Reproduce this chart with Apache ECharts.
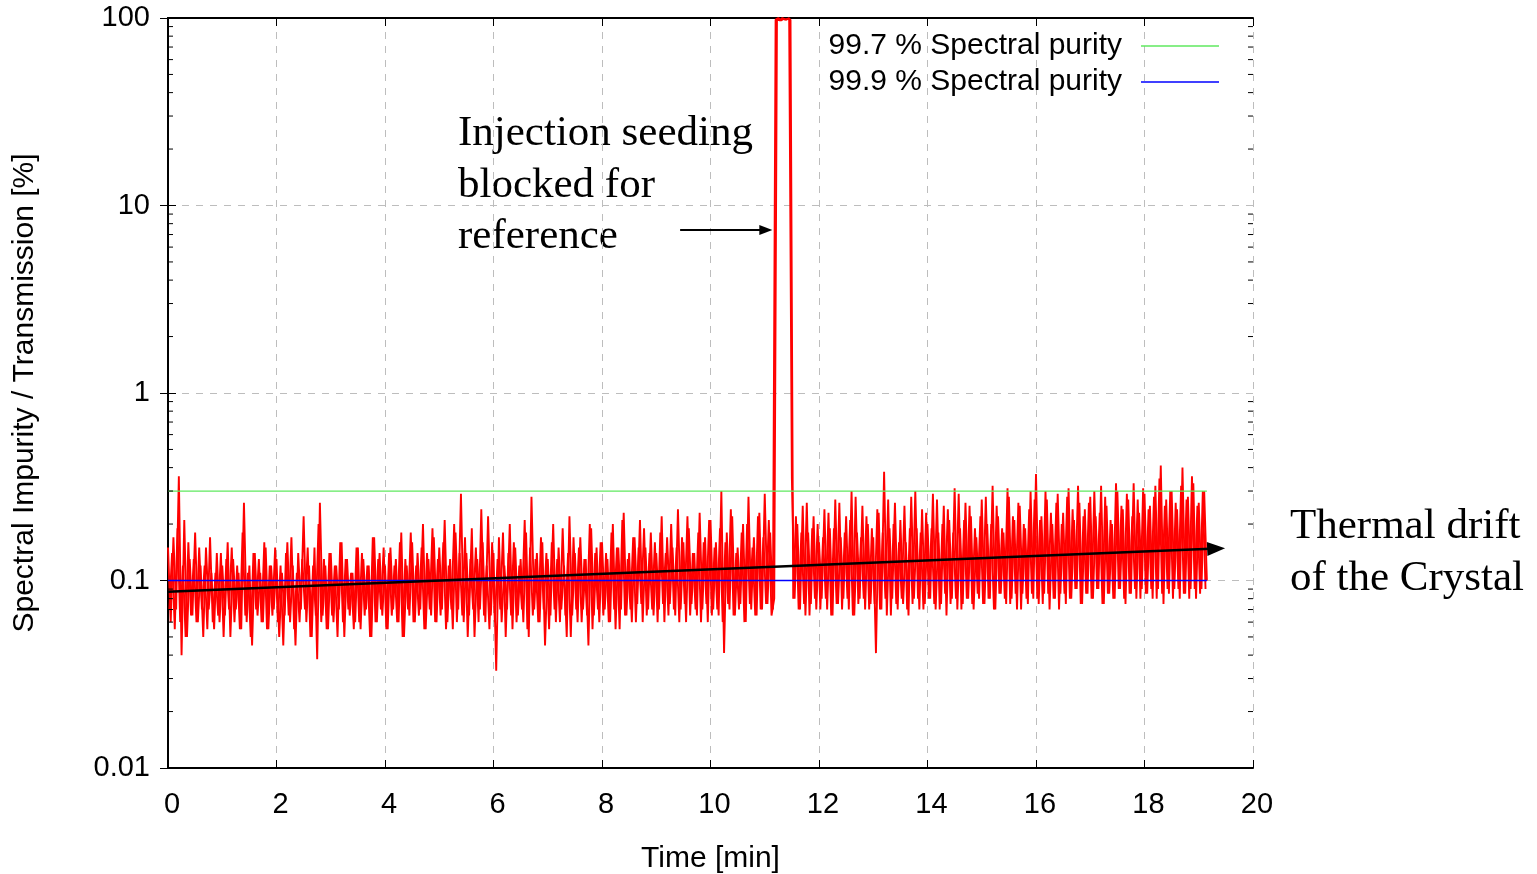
<!DOCTYPE html>
<html>
<head>
<meta charset="utf-8">
<script src="https://cdn.jsdelivr.net/npm/echarts@6/dist/echarts.min.js"></script>
<style>
html,body{margin:0;padding:0;background:#fff;}
#chart{width:1537px;height:874px;}
</style>
</head>
<body>
<div id="chart"></div>
<script>
// ---- Data ----
const sampleStart = 0;      // min
const sampleStep = 0.05;    // min between samples of one sweep; the second sweep is offset by half a step
// Spectral impurity / transmission [%], sweep A: t = i*step
const impurityBeforeBlock = [
  0.15,0.06,0.17,0.07,0.36,0.04,0.21,0.05,0.13,0.065,0.18,0.06,0.12,0.05,0.15,0.07,0.11,0.055,0.14,0.06,
  0.12,0.065,0.16,0.05,0.13,0.07,0.11,0.055,0.26,0.06,0.12,0.045,0.14,0.065,0.11,0.06,0.15,0.055,0.12,0.07,
  0.13,0.05,0.11,0.065,0.16,0.06,0.12,0.045,0.14,0.07,0.22,0.06,0.12,0.05,0.15,0.038,0.26,0.065,0.12,0.055,
  0.14,0.06,0.12,0.07,0.16,0.05,0.13,0.065,0.11,0.06,0.15,0.055,0.13,0.07,0.12,0.05,0.17,0.06,0.14,0.065,
  0.12,0.055,0.15,0.07,0.13,0.06,0.18,0.05,0.12,0.065,0.16,0.06,0.14,0.07,0.2,0.055,0.13,0.065,0.17,0.06,
  0.15,0.07,0.21,0.06,0.13,0.055,0.18,0.07,0.29,0.06,0.14,0.065,0.19,0.05,0.13,0.07,0.16,0.06,0.22,0.065,
  0.14,0.033,0.17,0.06,0.12,0.07,0.2,0.055,0.15,0.065,0.13,0.06,0.18,0.05,0.28,0.07,0.14,0.06,0.16,0.045,
  0.13,0.065,0.2,0.06,0.15,0.07,0.12,0.05,0.22,0.065,0.14,0.06,0.17,0.07,0.13,0.045,0.19,0.065,0.15,0.06,
  0.16,0.07,0.13,0.06,0.2,0.055,0.15,0.07,0.23,0.065,0.14,0.06,0.17,0.075,0.21,0.06,0.15,0.07,0.18,0.065,
  0.14,0.07,0.22,0.06,0.17,0.075,0.15,0.065,0.24,0.07,0.16,0.06,0.19,0.075,0.14,0.065,0.23,0.07,0.17,0.06,
  0.21,0.07,0.16,0.065,0.3,0.041,0.18,0.07,0.22,0.065,0.15,0.075,0.2,0.06,0.28,0.07,0.17,0.065,0.23,0.07,
  0.29,0.075,0.18,0.07
];
// injection seeding blocked (reference)
const impurityBlocked = [98,100,97,99,98,100];
const impurityAfterBlock = [
  0.35,0.08,0.2,0.07,0.25,0.065,0.18,0.075,0.22,0.07,
  0.16,0.08,0.24,0.07,0.19,0.065,0.27,0.075,0.17,0.08,0.22,0.07,0.3,0.065,0.18,0.08,0.25,0.07,0.2,0.075,
  0.17,0.041,0.23,0.07,0.38,0.065,0.19,0.08,0.26,0.07,0.21,0.075,0.16,0.065,0.28,0.08,0.19,0.07,0.24,0.075,
  0.2,0.08,0.29,0.07,0.18,0.075,0.25,0.065,0.21,0.08,0.31,0.07,0.19,0.075,0.26,0.08,0.22,0.07,0.17,0.08,
  0.27,0.075,0.2,0.08,0.32,0.07,0.22,0.085,0.18,0.075,0.28,0.08,0.21,0.07,0.25,0.085,0.19,0.075,0.3,0.08,
  0.37,0.075,0.22,0.085,0.27,0.07,0.2,0.08,0.29,0.085,0.23,0.075,0.31,0.08,0.21,0.09,0.26,0.075,0.24,0.085,
  0.28,0.08,0.22,0.09,0.32,0.075,0.25,0.085,0.2,0.08,0.3,0.09,0.24,0.075,0.27,0.085,0.33,0.08,0.23,0.09,
  0.29,0.085,0.25,0.08,0.32,0.09,0.41,0.075,0.27,0.085,0.3,0.09,0.24,0.08,0.4,0.085,0.28,0.09,0.33,0.08,
  0.26,0.09,0.3,0.1
];
// sweep B: t = i*step + step/2
const impurityMidBefore = [
  0.07,0.14,0.055,0.19,0.06,0.12,0.05,0.16,0.065,0.13,0.06,0.15,0.07,0.12,0.055,0.17,0.06,0.11,0.065,0.14,
  0.05,0.13,0.07,0.15,0.06,0.12,0.055,0.18,0.065,0.11,0.05,0.14,0.07,0.13,0.06,0.16,0.055,0.12,0.065,0.15,
  0.06,0.12,0.045,0.14,0.065,0.17,0.055,0.11,0.06,0.13,0.07,0.15,0.05,0.12,0.065,0.2,0.06,0.13,0.055,0.14,
  0.065,0.12,0.05,0.16,0.06,0.13,0.07,0.11,0.055,0.15,0.06,0.14,0.065,0.12,0.05,0.17,0.06,0.13,0.07,0.15,
  0.055,0.14,0.065,0.12,0.06,0.16,0.05,0.13,0.07,0.18,0.06,0.12,0.065,0.15,0.055,0.14,0.07,0.19,0.06,0.13,
  0.065,0.16,0.055,0.12,0.07,0.2,0.06,0.14,0.065,0.17,0.05,0.13,0.07,0.15,0.06,0.24,0.065,0.12,0.055,0.16,
  0.06,0.13,0.07,0.18,0.05,0.14,0.065,0.16,0.06,0.12,0.07,0.21,0.055,0.15,0.065,0.13,0.06,0.17,0.07,0.14,
  0.055,0.16,0.07,0.13,0.06,0.19,0.065,0.14,0.05,0.17,0.07,0.15,0.06,0.13,0.065,0.2,0.055,0.14,0.07,0.16,
  0.065,0.14,0.06,0.18,0.07,0.15,0.055,0.21,0.065,0.13,0.07,0.17,0.06,0.15,0.075,0.19,0.065,0.14,0.07,0.16,
  0.06,0.18,0.075,0.14,0.065,0.2,0.07,0.15,0.06,0.17,0.075,0.22,0.065,0.14,0.07,0.18,0.06,0.16,0.075,0.21,
  0.065,0.15,0.07,0.19,0.06,0.16,0.075,0.24,0.065,0.14,0.07,0.18,0.06,0.2,0.075,0.15,0.065,0.22,0.07,0.17,
  0.075,0.21,0.065,0.08
];
const impurityMidBlocked = [99,97,100,98,99,98];
const impurityMidAfter = [
  0.08,0.22,0.07,0.18,0.075,0.26,0.065,0.19,0.08,
  0.2,0.07,0.17,0.08,0.23,0.065,0.19,0.075,0.26,0.07,0.18,0.08,0.21,0.065,0.28,0.075,0.17,0.08,0.22,0.07,
  0.19,0.075,0.24,0.07,0.18,0.08,0.27,0.065,0.2,0.075,0.16,0.08,0.25,0.07,0.19,0.075,0.3,0.08,0.18,0.07,
  0.23,0.08,0.19,0.075,0.27,0.07,0.2,0.085,0.24,0.075,0.18,0.08,0.29,0.07,0.21,0.08,0.25,0.075,0.19,0.085,
  0.22,0.075,0.28,0.08,0.2,0.07,0.25,0.085,0.19,0.08,0.31,0.075,0.22,0.085,0.26,0.07,0.2,0.08,0.24,0.085,
  0.27,0.08,0.21,0.075,0.3,0.085,0.23,0.08,0.26,0.07,0.2,0.085,0.28,0.08,0.24,0.09,0.32,0.075,0.22,0.085,
  0.26,0.08,0.3,0.09,0.23,0.075,0.28,0.085,0.21,0.08,0.33,0.09,0.25,0.08,0.29,0.085,0.22,0.09,0.27,0.08,
  0.31,0.085,0.24,0.09,0.28,0.08,0.35,0.085,0.25,0.09,0.3,0.08,0.26,0.09,0.32,0.085,0.27,0.08,0.36,0.09,
  0.25,0.085,0.3,0.09
];
const purityLevels = [0.3, 0.1];                 // 99.7 %, 99.9 %
const purityNames = ['99.7 % Spectral purity', '99.9 % Spectral purity'];
const levelSpan = [0, 19.15];                    // min
const driftStart = [0, 0.087];
const driftEnd = [19.32, 0.148];
const injectionArrow = [[9.44, 7.4], [11.02, 7.4]];
const xTicks = [0, 20, 2];
const yRange = [0.01, 100];

// ---- Build series data ----
const sweepA = impurityBeforeBlock.concat(impurityBlocked, impurityAfterBlock)
  .map((v, i) => [+(sampleStart + i * sampleStep).toFixed(3), v]);
const sweepB = impurityMidBefore.concat(impurityMidBlocked, impurityMidAfter)
  .map((v, i) => [+(sampleStart + (i + 0.5) * sampleStep).toFixed(3), v]);

const chart = echarts.init(document.getElementById('chart'), null, {renderer: 'canvas'});
const font = '"Liberation Sans", Arial, sans-serif';
const serif = '"Liberation Serif", "Times New Roman", serif';
const gridLine = {show: true, lineStyle: {color: '#bdbdbd', type: [7, 7], width: 1}};
const redLine = {color: '#ff0000', width: 1.9, join: 'bevel'};

const option = {
  animation: false,
  backgroundColor: '#fff',
  grid: {left: 168, right: 284, top: 18, bottom: 106, containLabel: false, outerBoundsMode: 'none'},
  legend: {
    data: purityNames.map(n => ({name: n, icon: 'rect'})),
    orient: 'vertical',
    right: 313, top: 26,
    align: 'right',
    itemWidth: 78, itemHeight: 1.5,
    itemGap: 6,
    textStyle: {fontFamily: font, fontSize: 30, color: '#000', padding: [0, 14, 0, 0]}
  },
  xAxis: [{
    type: 'value', min: xTicks[0], max: xTicks[1], interval: xTicks[2],
    name: 'Time [min]', nameLocation: 'middle', nameGap: 76,
    nameTextStyle: {fontFamily: font, fontSize: 30, color: '#000'},
    axisLine: {lineStyle: {color: '#000', width: 2}},
    axisTick: {inside: true, length: 8, lineStyle: {color: '#000'}},
    axisLabel: {fontFamily: font, fontSize: 29, color: '#000', margin: 22, padding: [0, 0, 0, 8]},
    splitLine: gridLine
  }, {
    type: 'value', position: 'top', min: xTicks[0], max: xTicks[1], interval: xTicks[2],
    axisLine: {show: true, lineStyle: {color: '#000', width: 2}},
    axisTick: {show: true, inside: true, length: 8, lineStyle: {color: '#000'}},
    axisLabel: {show: false}, splitLine: {show: false}
  }],
  yAxis: [{
    type: 'log', logBase: 10, min: yRange[0], max: yRange[1],
    name: 'Spectral Impurity / Transmission [%]', nameLocation: 'middle', nameGap: 128,
    nameTextStyle: {fontFamily: font, fontSize: 30, color: '#000'},
    axisLine: {show: true, lineStyle: {color: '#000', width: 2}},
    axisTick: {show: true, inside: true, length: 8, lineStyle: {color: '#000'}},
    axisLabel: {fontFamily: font, fontSize: 29, color: '#000', margin: 18,
      formatter: v => String(+v.toPrecision(3))},
    splitLine: gridLine
  }, {
    type: 'log', logBase: 10, min: yRange[0], max: yRange[1], position: 'right',
    axisLine: {show: true, lineStyle: {color: '#000', width: 2}},
    axisTick: {show: true, inside: true, length: 8, lineStyle: {color: '#000'}},
    axisLabel: {show: false}, splitLine: {show: false}
  }],
  series: [
    {name: 'impurity A', type: 'line', data: sweepA, symbol: 'none', lineStyle: redLine, z: 2},
    {name: 'impurity B', type: 'line', data: sweepB, symbol: 'none', lineStyle: redLine, z: 2},
    {
      name: purityNames[0], type: 'line', symbol: 'none', color: '#5fe85f',
      data: levelSpan.map(x => [x, purityLevels[0]]),
      lineStyle: {color: '#5fe85f', width: 1.2}, z: 3
    },
    {
      name: purityNames[1], type: 'line', symbol: 'none', color: '#0000ff',
      data: levelSpan.map(x => [x, purityLevels[1]]),
      lineStyle: {color: '#0000ff', width: 1.4}, z: 3,
      markLine: {
        silent: true, symbol: ['none', 'triangle'],
        label: {show: false},
        lineStyle: {color: '#000', width: 2.5, type: 'solid'},
        data: [
          [{coord: driftStart, symbol: 'none'}, {coord: driftEnd, symbol: 'triangle', symbolSize: [14, 18]}],
          [{coord: injectionArrow[0], symbol: 'none', lineStyle: {width: 2}},
           {coord: injectionArrow[1], symbol: 'triangle', symbolSize: [10, 13]}]
        ]
      }
    }
  ],
  graphic: [
    {type: 'text', left: 458, top: 112, style: {text: 'Injection seeding', font: '43px ' + serif, fill: '#000'}},
    {type: 'text', left: 458, top: 164, style: {text: 'blocked for', font: '43px ' + serif, fill: '#000'}},
    {type: 'text', left: 458, top: 215, style: {text: 'reference', font: '43px ' + serif, fill: '#000'}},
    {type: 'text', left: 1290, top: 505, style: {text: 'Thermal drift', font: '43px ' + serif, fill: '#000'}},
    {type: 'text', left: 1290, top: 557, style: {text: 'of the Crystal', font: '43px ' + serif, fill: '#000'}}
  ]
};
chart.setOption(option);

// minor log ticks (2..9 per decade) on left and right axes, positioned by the y scale
const minor = [];
const gr = chart.getModel().getComponent('grid').coordinateSystem.getRect();
for (let d = yRange[0]; d < yRange[1] * 0.999; d *= 10) {
  for (let k = 2; k <= 9; k++) {
    const y = chart.convertToPixel({yAxisIndex: 0}, k * d);
    minor.push({type: 'line', shape: {x1: gr.x, y1: y, x2: gr.x + 5, y2: y}, style: {stroke: '#000', lineWidth: 1}, z: 10});
    minor.push({type: 'line', shape: {x1: gr.x + gr.width - 5, y1: y, x2: gr.x + gr.width, y2: y}, style: {stroke: '#000', lineWidth: 1}, z: 10});
  }
}
chart.setOption({graphic: option.graphic.concat(minor)});
</script>
</body>
</html>
